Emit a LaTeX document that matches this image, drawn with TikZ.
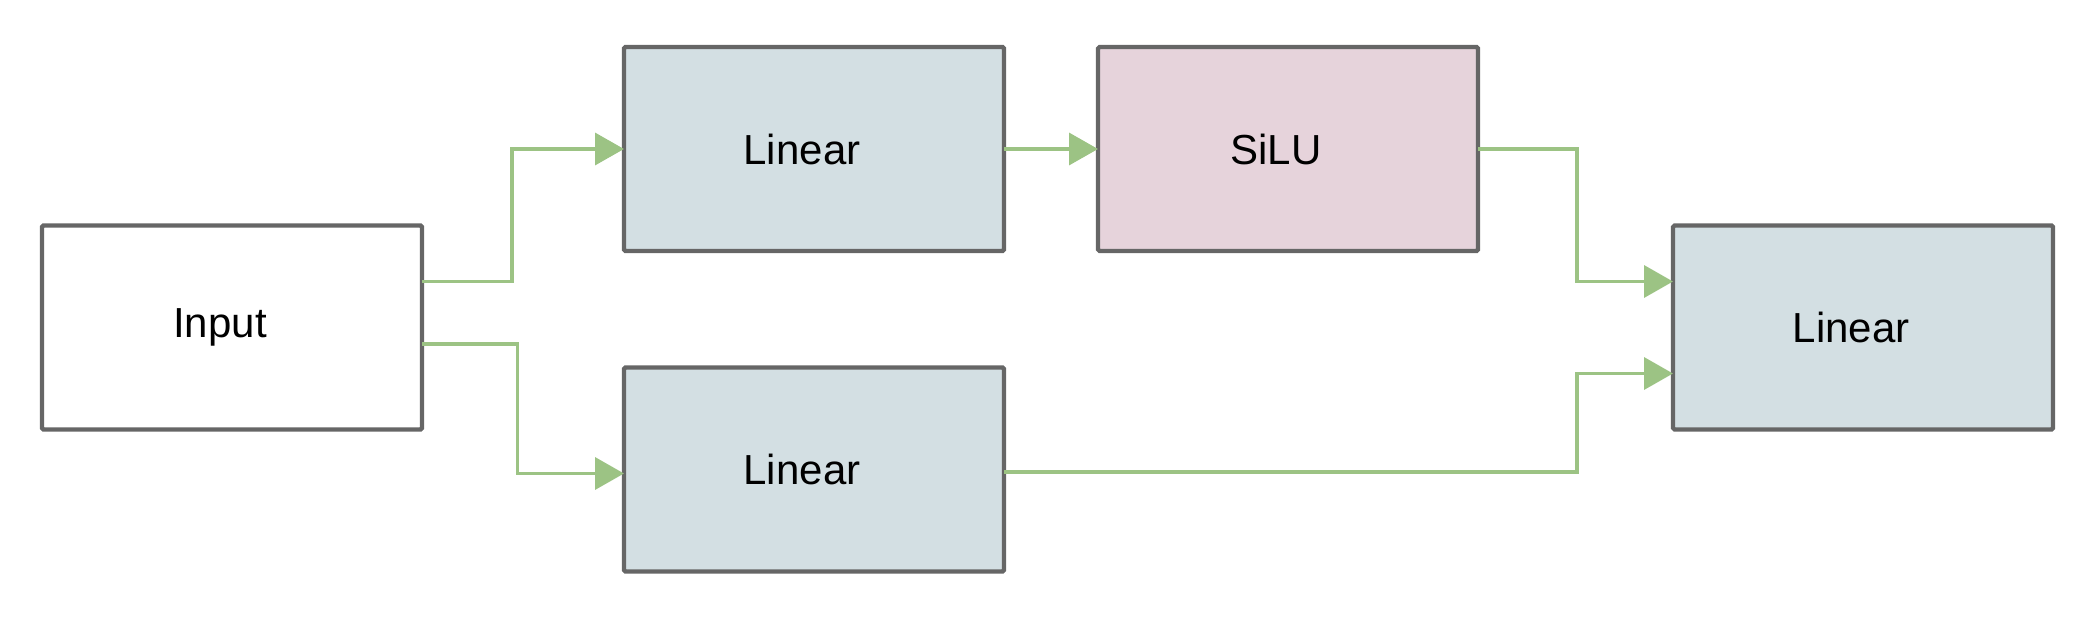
\documentclass[tikz,border=0pt]{standalone}
\usepackage{fontspec}
\setmainfont{Liberation Sans}
\usetikzlibrary{arrows.meta}
\definecolor{bordergray}{HTML}{666666}
\definecolor{linfill}{HTML}{D3DFE3}
\definecolor{silufill}{HTML}{E6D3DB}
\definecolor{arrgreen}{HTML}{9CC384}
\begin{document}
\begin{tikzpicture}[x=0.5pt,y=-0.5pt,
  blockbox/.style={draw=bordergray, line width=2.2pt, rounded corners=0.8pt,
    minimum width=190pt, minimum height=102pt, inner sep=0pt, outer sep=0pt,
    font=\fontsize{21pt}{25pt}\selectfont},
  conn/.style={draw=arrgreen, line width=1.8pt,
    -{Triangle[length=14.5pt,width=16pt]}},
]
\useasboundingbox (0,0) rectangle (2092,620);
\node[blockbox, fill=white] (in) at (232,327.5) {\hspace*{-12pt}Input};
\node[blockbox, fill=linfill] (l1) at (814,149) {\hspace*{-12pt}Linear};
\node[blockbox, fill=silufill] (sl) at (1288,149) {\hspace*{-12pt}SiLU};
\node[blockbox, fill=linfill] (l2) at (814,469.5) {\hspace*{-12pt}Linear};
\node[blockbox, fill=linfill] (r) at (1863,327.5) {\hspace*{-12pt}Linear};
\draw[conn] ([yshift=23pt]in.east) -- ++(90,0) |- (l1.west);
\draw[conn] ([yshift=-8.25pt]in.east) -- ++(95.6,0) |- ([yshift=-2pt]l2.west);
\draw[conn] (l1.east) -- (sl.west);
\draw[conn] (sl.east) -- ++(99,0) |- ([yshift=23pt]r.west);
\draw[conn] ([yshift=-1.2pt]l2.east) -- ++(573,0) |- ([yshift=-23pt]r.west);
\end{tikzpicture}
\end{document}
